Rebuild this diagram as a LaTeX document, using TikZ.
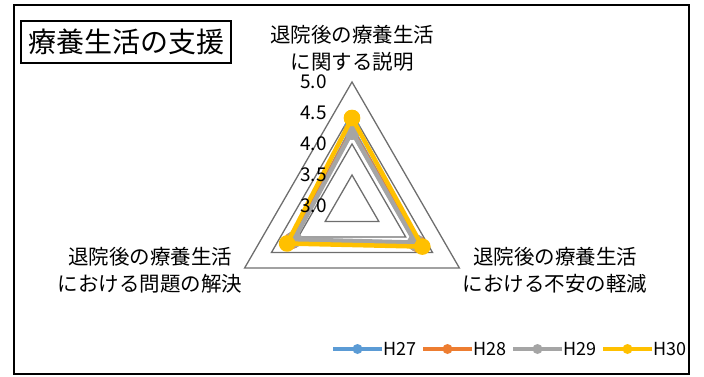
\documentclass[tikz,border=0pt]{standalone}
\usepackage{fontspec}
\setmainfont{Noto Sans CJK JP}
\usetikzlibrary{positioning}
\definecolor{cblue}{RGB}{91,155,213}
\definecolor{corange}{RGB}{237,125,49}
\definecolor{cgray}{RGB}{165,165,165}
\definecolor{cgold}{RGB}{255,192,0}
\definecolor{cgrid}{RGB}{110,110,110}

\begin{document}
\begin{tikzpicture}[x=1pt, y=1pt,
    grid/.style={draw=cgrid, line width=1.3pt},
    series/.style={line width=4.5pt, line join=round, line cap=round, mark=*, mark size=6pt},
    axislab/.style={font=\fontsize{20.5}{27}\selectfont, align=center},
    tick/.style={font=\fontsize{19}{20}\selectfont, anchor=east, inner sep=0pt},
    legtext/.style={font=\fontsize{18}{20}\selectfont, anchor=west, inner sep=0pt}
  ]
  \useasboundingbox (0,0) rectangle (704,376);
  % Frame and title
  \draw[line width=1.5pt] (14,2) rectangle (689,371);
  \node[draw, line width=1.2pt, minimum width=210pt, minimum height=42pt, inner sep=0pt,
        font=\fontsize{28}{30}\selectfont] (title) at (126,334) {療養生活の支援};

  % Radar grid
  \coordinate (c) at (352,170);
  \begin{scope}[shift={(c)}]
    \foreach \r in {31,62,93,124}
      \draw[grid] (90:\r) -- (330:\r) -- (210:\r) -- cycle;
    % Series
    \draw[series, cblue] plot coordinates {(90:77.5) (330:74.4) (210:68.2) (90:77.5)};
    \draw[series, corange] plot coordinates {(90:75.6) (330:75.6) (210:69.4) (90:75.6)};
    \draw[series, cgray] plot coordinates {(90:74.4) (330:73.2) (210:67.0) (90:74.4)};
    \draw[series, cgold] plot coordinates {(90:88.0) (330:81.2) (210:75.0) (90:88.0)};
    % Scale
    \foreach \v/\r in {3.0/0, 3.5/31, 4.0/62, 4.5/93, 5.0/124}
      \node[tick] (tick\r) at (-25,\r) {\v};
  \end{scope}

  % Axis labels
  \node[axislab] (axtop) at (352,327.5) {退院後の療養生活\\に関する説明};
  \node[axislab] (axleft) at (150,106) {退院後の療養生活\\における問題の解決};
  \node[axislab] (axright) at (555,106) {退院後の療養生活\\における不安の軽減};

  % Legend
  \foreach \col/\lab/\x in {cblue/H27/333, corange/H28/423, cgray/H29/513, cgold/H30/603} {
    \draw[\col, line width=4pt] (\x,27) -- ++(49,0);
    \fill[\col] (\x+24.5,27) circle (5pt);
    \node[legtext] (leg\lab) at (\x+50,27) {\lab};
  }
\end{tikzpicture}
\end{document}
